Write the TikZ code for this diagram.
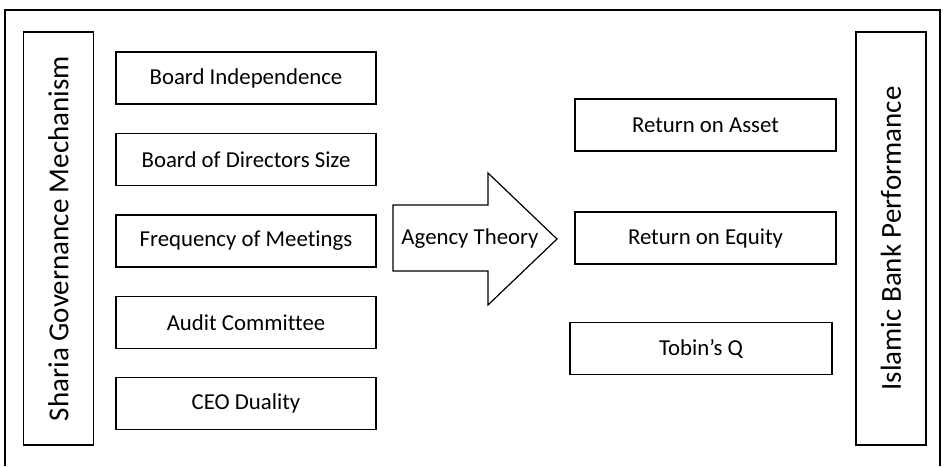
\documentclass[tikz,border=0pt]{standalone}
\usepackage{fontspec}
\setmainfont[Ligatures=NoCommon]{Carlito}
\usetikzlibrary{positioning}

\begin{document}
\begin{tikzpicture}[x=1pt, y=-1pt,
    box/.style={rectangle, draw=black, line width=1.4pt, minimum width=260pt,
                minimum height=52pt, inner sep=0pt, font=\fontsize{22.8}{26}\selectfont},
    side/.style={rectangle, draw=black, line width=1.4pt, minimum width=413pt,
                 minimum height=70pt, inner sep=0pt, rotate=90,
                 font=\fontsize{29}{34}\selectfont},
  ]
  \useasboundingbox (0,0) rectangle (947,466);
  % outer frame (runs off the bottom edge)
  \draw[line width=1.8pt] (5,466) -- (5,10) -- (940,10) -- (940,466);

  % the two side panels
  \node[side] (sgm) at (58.5,238.5) {Sharia Governance Mechanism};
  \node[side] (ibp) at (891,238.5) {Islamic Bank Performance};

  % governance variables
  \node[box] (indep) at (246,78) {Board Independence};
  \node[box, below=28pt of indep] (size) {Board of Directors Size};
  \node[box, below=28pt of size] (meet) {Frequency of Meetings};
  \node[box, below=28pt of meet] (audit) {Audit Committee};
  \node[box, below=28pt of audit] (ceo) {CEO Duality};

  % performance measures
  \node[box, minimum width=261pt] (roa) at (705.5,125) {Return on Asset};
  \node[box, minimum width=261pt] (roe) at (705.5,238) {Return on Equity};
  \node[box, minimum width=262pt] (tobin) at (701,348.5) {Tobin’s Q};

  % big block arrow in the middle
  \draw[line width=1.2pt, line join=miter] (393,205) -- (488,205) -- (488,173) -- (557,239)
    -- (488,305) -- (488,271) -- (393,271) -- cycle;
  \node[font=\fontsize{22.8}{26}\selectfont] (agency) at (470,239) {Agency Theory};
\end{tikzpicture}
\end{document}
